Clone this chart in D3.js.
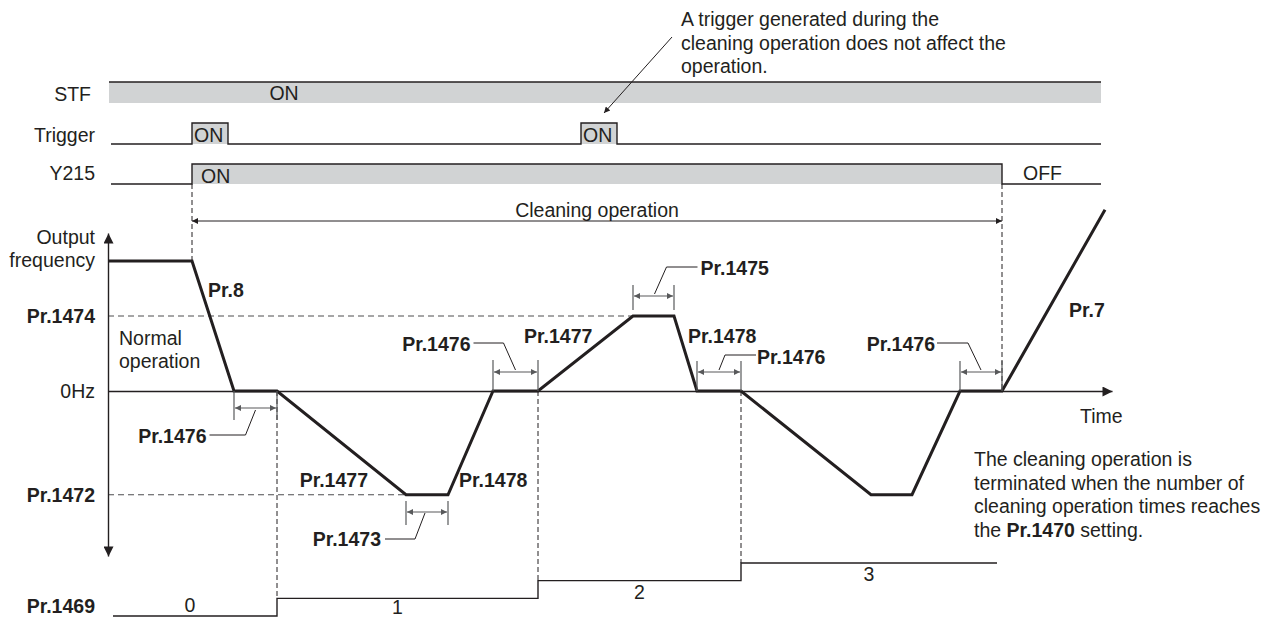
<!DOCTYPE html>
<html><head><meta charset="utf-8">
<script src="https://cdn.jsdelivr.net/npm/d3@7"></script>
<style>
body{margin:0;background:#fff}
text{font-family:"Liberation Sans",Arial,Helvetica,sans-serif;fill:#231f20;font-size:19.5px}
</style>
</head><body><svg id="c" width="1277" height="617"></svg>
<script>
// ---------------- data ----------------
const profileTime = [0, 8.4, 12.6, 16.9, 29.8, 34.0, 38.5, 43.0, 52.5, 56.6, 58.9, 63.3, 76.3, 80.4, 85.2, 89.4, 99.7];
const profileFreq = [52, 52, 0, 0, -41.5, -41.5, 0, 0, 30, 30, 0, 0, -41.5, -41.5, 0, 0, 72.5];
const levelNames = ["Pr.1474", "0Hz", "Pr.1472"];
const levelValues = [30, 0, -41.5];
const signalNames = ["STF", "Trigger", "Y215"];
const signalSpan = [0.3, 99.3];
const stfOn = [0.1, 99.3];
const triggerStart = [8.4, 47.3];
const triggerEnd = [12.0, 50.9];
const y215On = [8.4, 89.4];
const countTimes = [0.5, 16.9, 43.0, 63.3, 88.9];
const countValues = [0, 1, 2, 3, 3];
const dwellStart = [12.6, 29.8, 38.5, 52.5, 58.9, 85.2];
const dwellEnd = [16.9, 34.0, 43.0, 56.6, 63.3, 89.4];
const dwellLevel = [0, -41.5, 0, 30, 0, 0];
const dwellLabels = ["Pr.1476", "Pr.1473", "Pr.1476", "Pr.1475", "Pr.1476", "Pr.1476"];
const rampLabels = ["Pr.8", "Pr.1477", "Pr.1478", "Pr.1477", "Pr.1478", "Pr.7"];
const cleaningSpan = [8.4, 89.4];
const noteTop = ["A trigger generated during the", "cleaning operation does not affect the", "operation."];

// ---------------- setup ----------------
const ink = "#231f20", fillGray = "#d1d3d4", dimGray = "#58595b";
const svg = d3.select("#c");
const defs = svg.append("defs");
function marker(id, w, h, color) {
  defs.append("marker").attr("id", id).attr("viewBox", "0 0 10 10")
    .attr("refX", 10).attr("refY", 5).attr("markerUnits", "userSpaceOnUse")
    .attr("markerWidth", w).attr("markerHeight", h).attr("orient", "auto-start-reverse")
    .append("path").attr("d", "M0,0L10,5L0,10z").attr("fill", color);
}
marker("axArrow", 11, 10, ink);
marker("smArrow", 8, 6, ink);
marker("dimArrow", 7, 6, dimGray);

const x = d3.scaleLinear().domain([0, 100.4]).range([108, 1112]);
const y = d3.scaleLinear().domain([-66, 63.2]).range([556, 233]);
const cy = d3.scaleLinear().domain([0, 3]).range([616, 563]);

// ---------------- signal rows ----------------
const rowTop = {STF: 82, Trigger: 123, Y215: 164};
const rowBot = {STF: 103, Trigger: 144, Y215: 184};
const rowLabelBase = {STF: 101, Trigger: 142, Y215: 180};
const rowLabelX = {STF: 91, Trigger: 95, Y215: 95};
signalNames.forEach(n => {
  svg.append("text").attr("x", rowLabelX[n]).attr("y", rowLabelBase[n]).attr("text-anchor", "end").text(n);
});
// STF
svg.append("rect").attr("x", x(stfOn[0])).attr("y", rowTop.STF).attr("width", x(stfOn[1]) - x(stfOn[0]))
  .attr("height", rowBot.STF - rowTop.STF).attr("fill", fillGray);
svg.append("line").attr("x1", x(stfOn[0])).attr("x2", x(stfOn[1])).attr("y1", rowTop.STF).attr("y2", rowTop.STF)
  .attr("stroke", ink).attr("stroke-width", 1.4);
svg.append("text").attr("x", 284).attr("y", 100).attr("text-anchor", "middle").text("ON");
// Trigger
triggerStart.forEach((s, i) => {
  svg.append("rect").attr("x", x(s)).attr("y", rowTop.Trigger).attr("width", x(triggerEnd[i]) - x(s))
    .attr("height", rowBot.Trigger - rowTop.Trigger).attr("fill", fillGray);
  svg.append("text").attr("x", x(s) + 2).attr("y", 142).text("ON");
});
let tp = d3.path();
tp.moveTo(x(signalSpan[0]), rowBot.Trigger);
triggerStart.forEach((s, i) => {
  tp.lineTo(x(s), rowBot.Trigger); tp.lineTo(x(s), rowTop.Trigger);
  tp.lineTo(x(triggerEnd[i]), rowTop.Trigger); tp.lineTo(x(triggerEnd[i]), rowBot.Trigger);
});
tp.lineTo(x(signalSpan[1]), rowBot.Trigger);
svg.append("path").attr("d", tp.toString()).attr("fill", "none").attr("stroke", ink).attr("stroke-width", 1.4);
// Y215
svg.append("rect").attr("x", x(y215On[0])).attr("y", rowTop.Y215).attr("width", x(y215On[1]) - x(y215On[0]))
  .attr("height", rowBot.Y215 - rowTop.Y215).attr("fill", fillGray);
let yp = d3.path();
yp.moveTo(x(signalSpan[0]), rowBot.Y215); yp.lineTo(x(y215On[0]), rowBot.Y215); yp.lineTo(x(y215On[0]), rowTop.Y215);
yp.lineTo(x(y215On[1]), rowTop.Y215); yp.lineTo(x(y215On[1]), rowBot.Y215); yp.lineTo(x(signalSpan[1]), rowBot.Y215);
svg.append("path").attr("d", yp.toString()).attr("fill", "none").attr("stroke", ink).attr("stroke-width", 1.4);
svg.append("text").attr("x", x(y215On[0]) + 9).attr("y", 183).text("ON");
svg.append("text").attr("x", x(y215On[1]) + 21).attr("y", 180).text("OFF");

// top note
noteTop.forEach((t, i) => svg.append("text").attr("x", 681).attr("y", 26 + i * 23.5).text(t));
svg.append("line").attr("x1", 672).attr("y1", 37).attr("x2", x(triggerStart[1]) + 23).attr("y2", 113)
  .attr("stroke", ink).attr("stroke-width", 1).attr("marker-end", "url(#smArrow)");

// ---------------- dashed guides ----------------
const dash = (x1, y1, x2, y2, da, col) => svg.append("line").attr("x1", x1).attr("y1", y1).attr("x2", x2).attr("y2", y2)
  .attr("stroke", col || ink).attr("stroke-width", 1).attr("stroke-dasharray", da || "5,3");
dash(x(cleaningSpan[0]), rowBot.Y215, x(cleaningSpan[0]), y(profileFreq[0]));
dash(x(cleaningSpan[1]), rowBot.Y215, x(cleaningSpan[1]), y(0));
[1, 2, 3].forEach(i => dash(x(countTimes[i]), y(0), x(countTimes[i]), cy(countValues[i])));
dash(x(0), y(30), x(52.5), y(30), "6,4", "#4d4d4f");
dash(x(0), y(-41.5), x(29.8), y(-41.5), "6,4", "#4d4d4f");

// cleaning operation arrow
svg.append("line").attr("x1", x(cleaningSpan[0])).attr("x2", x(cleaningSpan[1])).attr("y1", 221).attr("y2", 221)
  .attr("stroke", ink).attr("stroke-width", 1).attr("marker-start", "url(#smArrow)").attr("marker-end", "url(#smArrow)");
svg.append("text").attr("x", (x(cleaningSpan[0]) + x(cleaningSpan[1])) / 2).attr("y", 217).attr("text-anchor", "middle").text("Cleaning operation");

// ---------------- axes ----------------
const yAxis = d3.axisLeft(y).tickValues(levelValues).tickFormat((d, i) => levelNames[i]).tickSize(0).tickSizeOuter(0).tickPadding(13);
const gy = svg.append("g").attr("transform", `translate(${x(0)},0)`).call(yAxis);
gy.select(".domain").attr("stroke", ink).attr("stroke-width", 1.4).attr("marker-start", "url(#axArrow)").attr("marker-end", "url(#axArrow)");
gy.selectAll(".tick text").attr("font-size", 19.5).attr("font-family", null).attr("fill", ink)
  .attr("font-weight", (d, i) => levelNames[i].startsWith("Pr") ? "bold" : "normal");
const xAxis = d3.axisBottom(x).tickValues([]).tickSizeOuter(0);
const gx = svg.append("g").attr("transform", `translate(0,${y(0)})`).call(xAxis);
gx.select(".domain").attr("stroke", ink).attr("stroke-width", 1.4).attr("marker-end", "url(#axArrow)");
svg.append("text").attr("x", 1080).attr("y", 423).text("Time");
svg.append("text").attr("x", 95).attr("y", 244).attr("text-anchor", "end").text("Output");
svg.append("text").attr("x", 95).attr("y", 267).attr("text-anchor", "end").text("frequency");
svg.append("text").attr("x", 119).attr("y", 345).text("Normal");
svg.append("text").attr("x", 119).attr("y", 368).text("operation");

// ---------------- profile ----------------
const line = d3.line().x((d, i) => x(profileTime[i])).y((d, i) => y(profileFreq[i]));
svg.append("path").attr("d", line(profileTime)).attr("fill", "none").attr("stroke", ink).attr("stroke-width", 3).attr("stroke-linejoin", "miter");

// ramp labels
const rampPos = [[208, 297, "start"], [368, 487, "end"], [459, 487, "start"], [524, 343, "start"], [688, 343, "start"], [1069, 317, "start"]];
rampLabels.forEach((t, i) => svg.append("text").attr("x", rampPos[i][0]).attr("y", rampPos[i][1])
  .attr("text-anchor", rampPos[i][2]).attr("font-weight", "bold").text(t));

// ---------------- dwell dimensions ----------------
const dimLayout = [
  {t: [391, 420], a: 408, lead: [[0, 410], [-10, 435], [-46, 435]], lx: -49, ly: 443, anc: "end"},
  {t: [501, 525], a: 512, lead: [[-2, 513], [-12, 539], [-42, 539]], lx: -46, ly: 546, anc: "end"},
  {t: [360, 391], a: 372, lead: [[0, 370], [-12, 343], [-42, 343]], lx: -45, ly: 351, anc: "end"},
  {t: [285, 310], a: 296, lead: [[1, 294], [13, 267], [44, 267]], lx: 47, ly: 275, anc: "start"},
  {t: [361, 391], a: 372, lead: [[0, 370], [6, 355], [37, 355]], lx: 38, ly: 364, anc: "start"},
  {t: [361, 391], a: 372, lead: [[0, 370], [-13, 343], [-44, 343]], lx: -46, ly: 351, anc: "end"}
];
dwellStart.forEach((s, i) => {
  const L = dimLayout[i], x0 = x(s), x1 = x(dwellEnd[i]), m = (x0 + x1) / 2;
  [x0, x1].forEach(xx => svg.append("line").attr("x1", xx).attr("x2", xx).attr("y1", L.t[0]).attr("y2", L.t[1])
    .attr("stroke", dimGray).attr("stroke-width", 1.2));
  svg.append("line").attr("x1", x0 + 1).attr("x2", x1 - 1).attr("y1", L.a).attr("y2", L.a)
    .attr("stroke", dimGray).attr("stroke-width", 1.2).attr("marker-start", "url(#dimArrow)").attr("marker-end", "url(#dimArrow)");
  svg.append("path").attr("d", d3.line()(L.lead.map(p => [m + p[0], p[1]]))).attr("fill", "none")
    .attr("stroke", ink).attr("stroke-width", 1);
  svg.append("text").attr("x", m + L.lx).attr("y", L.ly).attr("text-anchor", L.anc).attr("font-weight", "bold").text(dwellLabels[i]);
});

// ---------------- Pr.1469 counter ----------------
svg.append("text").attr("x", 95).attr("y", 613).attr("text-anchor", "end").attr("font-weight", "bold").text("Pr.1469");
const cline = d3.line().curve(d3.curveStepAfter).x((d, i) => x(countTimes[i])).y((d, i) => cy(countValues[i]));
svg.append("path").attr("d", cline(countTimes)).attr("fill", "none").attr("stroke", ink).attr("stroke-width", 1.4);
[0, 1, 2, 3].forEach(i => {
  const mx = (x(countTimes[i]) + x(countTimes[i + 1])) / 2 - (i === 0 ? 5 : i === 1 ? 10 : 0);
  svg.append("text").attr("x", mx).attr("y", i === 0 ? cy(0) - 4 : cy(countValues[i]) + (i === 1 ? 16 : 18))
    .attr("text-anchor", "middle").text(countValues[i]);
});

// bottom-right note
["The cleaning operation is", "terminated when the number of", "cleaning operation times reaches"].forEach((t, i) =>
  svg.append("text").attr("x", 974).attr("y", 466 + i * 23.7).text(t));
const last = svg.append("text").attr("x", 974).attr("y", 537);
last.append("tspan").text("the ");
last.append("tspan").attr("font-weight", "bold").text("Pr.1470");
last.append("tspan").text(" setting.");
</script>
</body></html>
